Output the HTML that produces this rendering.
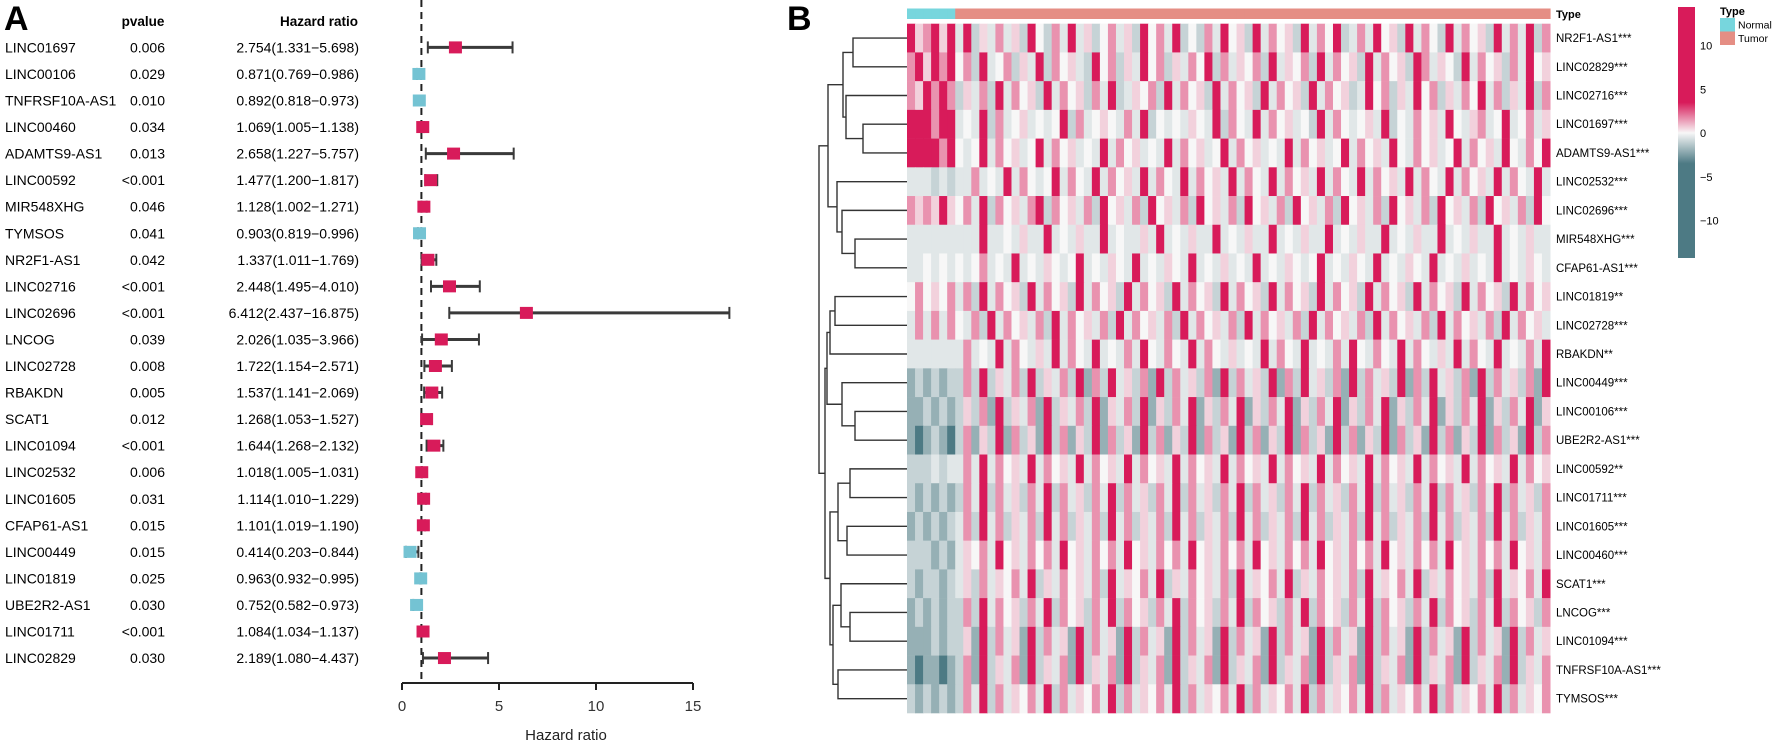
<!DOCTYPE html>
<html><head><meta charset="utf-8">
<style>
html,body{margin:0;padding:0;background:#fff;}
svg{display:block;font-family:"Liberation Sans",Arial,sans-serif;}
</style></head>
<body>
<svg id="fig" width="1772" height="743" viewBox="0 0 1772 743" xmlns="http://www.w3.org/2000/svg">
<g id="panelA"></g>
<g id="panelB"></g>
</svg>
<script>
// ---------- Forest plot data ----------
const genes = ["LINC01697","LINC00106","TNFRSF10A-AS1","LINC00460","ADAMTS9-AS1","LINC00592","MIR548XHG","TYMSOS","NR2F1-AS1","LINC02716","LINC02696","LNCOG","LINC02728","RBAKDN","SCAT1","LINC01094","LINC02532","LINC01605","CFAP61-AS1","LINC00449","LINC01819","UBE2R2-AS1","LINC01711","LINC02829"];
const pvals = ["0.006","0.029","0.010","0.034","0.013","<0.001","0.046","0.041","0.042","<0.001","<0.001","0.039","0.008","0.005","0.012","<0.001","0.006","0.031","0.015","0.015","0.025","0.030","<0.001","0.030"];
const hr = [2.754,0.871,0.892,1.069,2.658,1.477,1.128,0.903,1.337,2.448,6.412,2.026,1.722,1.537,1.268,1.644,1.018,1.114,1.101,0.414,0.963,0.752,1.084,2.189];
const hrLow = [1.331,0.769,0.818,1.005,1.227,1.200,1.002,0.819,1.011,1.495,2.437,1.035,1.154,1.141,1.053,1.268,1.005,1.010,1.019,0.203,0.932,0.582,1.034,1.080];
const hrHigh = [5.698,0.986,0.973,1.138,5.757,1.817,1.271,0.996,1.769,4.010,16.875,3.966,2.571,2.069,1.527,2.132,1.031,1.229,1.190,0.844,0.995,0.973,1.137,4.437];
const xTicks = [0,5,10,15];

// ---------- Heatmap data ----------
const hmGenes = ["NR2F1-AS1***","LINC02829***","LINC02716***","LINC01697***","ADAMTS9-AS1***","LINC02532***","LINC02696***","MIR548XHG***","CFAP61-AS1***","LINC01819**","LINC02728***","RBAKDN**","LINC00449***","LINC00106***","UBE2R2-AS1***","LINC00592**","LINC01711***","LINC01605***","LINC00460***","SCAT1***","LNCOG***","LINC01094***","TNFRSF10A-AS1***","TYMSOS***"];
const sampleTypes = "NNNNNN" + "T".repeat(74);
const levelValues = [-4,-2,-1,-0.45,0,0.5,1.2,0.6,1.6,10];
const hmRows = [
"978979"+"39253837294283937248372948392428394729384729384923839472938429384729383928",
"897989"+"48293482739284732948273948273849283748293748293847293847298374293847283947",
"879898"+"27382938472938472839237482938472938472938472938472394827394827384938273928",
"999899"+"34392834734349283474383924343743928439384734293843473924384739437834934837",
"999989"+"43493847349384734393847343938473493847343938473493847394384734938473943849",
"333232"+"33834393843493843938473938439384739384393847393843938473938439384739384393",
"878797"+"48392847389284738294738294738294738294738294738294738294738294738294738294",
"333333"+"33393343733934373393433739343733934373393437339343733934373393437339343733",
"334343"+"43483439343743493437439343743934373439343743493437439343743934373439343743",
"484748"+"38293847293847293847293847293847293847293847293847293847293847293847293847",
"383838"+"43829384738293847382938473829384738293847382938473829384738293847382938473",
"333333"+"38343938437393843934383943843938437343938439343839438439384373938439343839",
"121212"+"28292738292738291829372819283728192837291829372819283729182937281928372819",
"112121"+"27281927381927382917382917283917283917283917283917283917283917283917283917",
"101210"+"28172918271928172918271928172918271928172918271928172918271928172918271928",
"222323"+"38393847393847393847393847393847393847393847393847393847393847393847393847",
"212121"+"28392837283928372839283728392837283928372839283728392837283928372839283728",
"121212"+"38293827382938273829382738293827382938273829382738293827382938273829382738",
"222121"+"37483947384839473848394738483947384839473848394738483947384839473848394738",
"212212"+"37283748392738473829374839273847382937483927384738293748392738473829374839",
"121212"+"28293847283928472839284728392847283928472839284728392847283928472839284728",
"111212"+"27192837192837192837192837192837192837192837192837192837192837192837192837",
"101101"+"28192738192738192738192738192738192738192738192738192738192738192738192738",
"212121"+"28392837483928374839283748392837483928374839283748392837483928374839283748"
];
// dendrogram merges: [nodeA, nodeB, height]; leaves 0..23, internal nodes 24+
const merges = [[0,1,54],[3,4,44],[2,25,61],[24,26,64],[7,8,52],[6,28,65],[5,29,70],[27,30,79],
[9,10,72],[32,11,77],[13,14,52],[12,34,65],[33,35,80],[15,16,57],[17,18,60],[37,38,69],
[20,21,57],[19,40,66],[22,23,69],[41,42,74],[39,43,77],[36,44,82],[31,45,88]];
const cbTicks = [10,5,0,-5,-10];

const NS="http://www.w3.org/2000/svg";
function mk(parent,tag,attrs,text){const e=document.createElementNS(NS,tag);for(const k in attrs)e.setAttribute(k,attrs[k]);if(text!==undefined)e.textContent=text;parent.appendChild(e);return e;}

// ---------- Panel A ----------
const A=document.getElementById('panelA');
const rowY=i=>47.4+i*26.55;
const xS=v=>402+v*19.4;
let t;
t=mk(A,'text',{x:4,y:30,'font-size':34,'font-weight':'bold'},'A');


t=mk(A,'text',{x:143,y:26,'font-size':13.5,'font-weight':'bold','text-anchor':'middle'},'pvalue');


t=mk(A,'text',{x:319,y:26,'font-size':13.5,'font-weight':'bold','text-anchor':'middle'},'Hazard ratio');


let dl=mk(A,'line',{x1:xS(1),x2:xS(1),y1:0,y2:683,stroke:'#222','stroke-width':2,'stroke-dasharray':'7,5'});


genes.forEach((g,i)=>{
  const y=rowY(i);
  let e=mk(A,'text',{x:5,y:y+5,'font-size':14},g);
  
  
  e=mk(A,'text',{x:165,y:y+5,'font-size':14,'text-anchor':'end'},pvals[i]);
  
  
  e=mk(A,'text',{x:359,y:y+5,'font-size':14,'text-anchor':'end'},hr[i].toFixed(3)+'('+hrLow[i].toFixed(3)+'\u2212'+hrHigh[i].toFixed(3)+')');
  
  
  const g2=mk(A,'g',{});
  
  
  const x1=xS(hrLow[i]),x2=xS(hrHigh[i]);
  e=mk(g2,'line',{x1:x1,x2:x2,y1:y,y2:y,stroke:'#3a3a3a','stroke-width':3});
  
  
  [x1,x2].forEach(xx=>{
    e=mk(g2,'line',{x1:xx,x2:xx,y1:y-6,y2:y+6,stroke:'#3a3a3a','stroke-width':2});
    
    
  });
  e=mk(g2,'rect',{x:xS(hr[i])-6.5,y:y-6,width:13,height:12,fill:hr[i]>1?'#d81b5a':'#74c3d3'});
  
  
});
let ax=mk(A,'line',{x1:xS(0),x2:xS(15),y1:683,y2:683,stroke:'#222','stroke-width':2});


xTicks.forEach(v=>{
  let e=mk(A,'line',{x1:xS(v),x2:xS(v),y1:683,y2:690,stroke:'#222','stroke-width':2});
  
  
  e=mk(A,'text',{x:xS(v),y:711,'font-size':15,'text-anchor':'middle',fill:'#333'},String(v));
  
  
});
t=mk(A,'text',{x:566,y:740,'font-size':15,'text-anchor':'middle',fill:'#222'},'Hazard ratio');



// ---------- Panel B ----------
const B=document.getElementById('panelB');
t=mk(B,'text',{x:787,y:30,'font-size':34,'font-weight':'bold'},'B');


const HX=907,HW=643,HY=23.7,RH=(713-23.7)/hmGenes.length;
function lerp(a,b,f){return Math.round(a+(b-a)*f);}
function colorOf(v){
  const w=[247,247,247];let c;
  if(v>=0){const f=Math.min(v/3.5,1);c=[216,27,90];return 'rgb('+lerp(w[0],c[0],f)+','+lerp(w[1],c[1],f)+','+lerp(w[2],c[2],f)+')';}
  const f=Math.min(-v/3.5,1);c=[77,122,132];return 'rgb('+lerp(w[0],c[0],f)+','+lerp(w[1],c[1],f)+','+lerp(w[2],c[2],f)+')';
}
// annotation
const nS=sampleTypes.length, cw0=HW/nS;
for(let j=0;j<nS;j++){
  let e=mk(B,'rect',{x:HX+j*cw0,y:8.5,width:cw0+0.6,height:10.5,fill:sampleTypes[j]==='N'?'#77d6dd':'#e58e84'});
  
  
}
t=mk(B,'text',{x:1556,y:18,'font-size':11,'font-weight':'bold'},'Type');


hmRows.forEach((row,i)=>{
  const n=row.length,cw=HW/n,y=HY+i*RH;
  for(let j=0;j<n;j++){
    let e=mk(B,'rect',{x:HX+j*cw,y:y,width:cw+0.5,height:RH+0.3,fill:colorOf(levelValues[+row[j]])});
    
    
  }
  let e=mk(B,'text',{x:1556,y:y+RH/2+4,'font-size':11.5},hmGenes[i]);
  
  
});
// dendrogram
const nodeY={},nodeX={};
for(let i=0;i<hmGenes.length;i++){nodeY[i]=HY+(i+0.5)*RH;nodeX[i]=HX;}
merges.forEach((m,k)=>{
  const id=hmGenes.length+k,xh=HX-m[2];
  const a=m[0],b=m[1];
  let e=mk(B,'path',{d:'M'+nodeX[a]+','+nodeY[a]+'H'+xh+'V'+nodeY[b]+'H'+nodeX[b],fill:'none',stroke:'#333','stroke-width':1.4});
  
  
  nodeX[id]=xh;nodeY[id]=(nodeY[a]+nodeY[b])/2;
});
// colorbar
const cbY=v=>133-v*8.75;
const defs=mk(B,'defs',{});
const lg=mk(defs,'linearGradient',{id:'cbg',x1:0,y1:0,x2:0,y2:1});
[[14.4,'#d81b5a'],[3.5,'#d81b5a'],[0,'#f7f7f7'],[-3.5,'#4d7a84'],[-14.3,'#4d7a84']].forEach(s=>{
  mk(lg,'stop',{offset:((14.4-s[0])/28.7).toFixed(4),'stop-color':s[1]});
});
let cb=mk(B,'rect',{x:1678,y:7,width:17,height:251,fill:'url(#cbg)'});


cbTicks.forEach(v=>{
  let e=mk(B,'text',{x:1700,y:cbY(v)+4,'font-size':11},v<0?'\u2212'+(-v):String(v));
  
  
});
t=mk(B,'text',{x:1720,y:15,'font-size':11,'font-weight':'bold'},'Type');


[['Normal','#77d6dd',18],['Tumor','#e58e84',31.5]].forEach(l=>{
  let e=mk(B,'rect',{x:1720,y:l[2],width:15,height:13.5,fill:l[1]});
  
  
  e=mk(B,'text',{x:1738,y:l[2]+10.5,'font-size':10.5},l[0]);
  
  
});
</script>
</body></html>
